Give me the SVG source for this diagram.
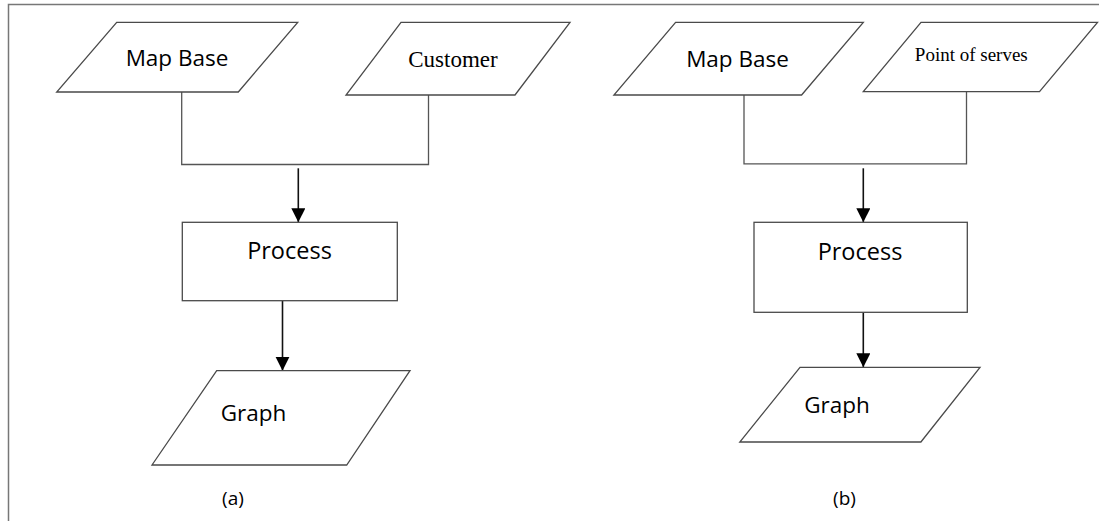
<svg xmlns="http://www.w3.org/2000/svg" width="1099" height="521" viewBox="0 0 1099 521">
<defs>
<marker id="arr" markerUnits="userSpaceOnUse" markerWidth="15" markerHeight="15" refX="14" refY="7" orient="auto">
<path d="M0,0 L14,7 L0,14 z" fill="#000"/>
</marker>
</defs>
<style>
.shape{fill:#fff;stroke:#4a4a4a;stroke-width:1.3}
.conn{fill:none;stroke:#555;stroke-width:1.3}
.arrow{fill:none;stroke:#111;stroke-width:1.6}
.sans{font-family:"Open Sans","DejaVu Sans",sans-serif;fill:#000}
.serif{font-family:"Liberation Serif","Times New Roman",serif;fill:#000}
</style>
<rect width="1099" height="521" fill="#fff"/>
<path d="M8.5,521 V4.5 H1099" fill="none" stroke="#777" stroke-width="1.5"/>

<g id="connectors">
<path class="conn" d="M181.7,92 V164.5 H428.5 V95"/>
<path class="arrow" d="M298.3,168.3 V222.3" marker-end="url(#arr)"/>
<path class="arrow" d="M282.5,300.7 V370.7" marker-end="url(#arr)"/>
<path class="conn" d="M744,95 V163.8 H966.5 V91.7"/>
<path class="arrow" d="M863.3,168.3 V222.3" marker-end="url(#arr)"/>
<path class="arrow" d="M863.3,312.3 V367.3" marker-end="url(#arr)"/>
</g>

<g id="a-mapbase">
<polygon class="shape" points="116.7,22.3 297.7,22.3 238.3,92 56.7,92"/>
<text class="sans" x="177" y="65.7" font-size="22.5" text-anchor="middle">Map Base</text>
</g>
<g id="a-customer">
<polygon class="shape" points="401,22.3 570,22.3 515,95 346,95"/>
<text class="serif" x="453" y="66.7" font-size="23" text-anchor="middle">Customer</text>
</g>
<g id="a-process">
<rect class="shape" x="182.3" y="222.3" width="215" height="78.4"/>
<text class="sans" x="289.5" y="259" font-size="23.5" text-anchor="middle">Process</text>
</g>
<g id="a-graph">
<polygon class="shape" points="216.7,370.7 410,370.7 346.7,465 152,465"/>
<text class="sans" x="253.5" y="421" font-size="22.5" text-anchor="middle">Graph</text>
</g>
<g id="a-label">
<text class="sans" x="233" y="505" font-size="19" text-anchor="middle">(a)</text>
</g>

<g id="b-mapbase">
<polygon class="shape" points="675.6,22.3 863.3,22.3 801.6,95 613.9,95"/>
<text class="sans" x="737.5" y="66.7" font-size="22.5" text-anchor="middle">Map Base</text>
</g>
<g id="b-pointofserves">
<polygon class="shape" points="921,22.3 1097.5,22.3 1039.5,91.7 863.3,91.7"/>
<text class="serif" x="971.3" y="61" font-size="19" text-anchor="middle">Point of serves</text>
</g>
<g id="b-process">
<rect class="shape" x="754" y="222.3" width="213.3" height="90"/>
<text class="sans" x="860" y="260" font-size="23.5" text-anchor="middle">Process</text>
</g>
<g id="b-graph">
<polygon class="shape" points="800,367.3 980,367.3 920.9,442 739.8,442"/>
<text class="sans" x="837" y="413.3" font-size="22.5" text-anchor="middle">Graph</text>
</g>
<g id="b-label">
<text class="sans" x="844.5" y="505" font-size="19" text-anchor="middle">(b)</text>
</g>
</svg>
